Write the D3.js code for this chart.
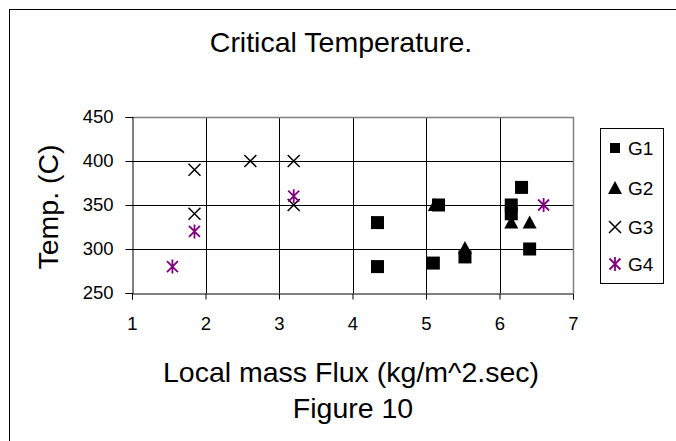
<!DOCTYPE html>
<html>
<head>
<meta charset="utf-8">
<script src="https://cdn.jsdelivr.net/npm/d3@7"></script>
<style>
  html, body { margin: 0; padding: 0; background: #fff; }
  svg { display: block; font-family: "Liberation Sans", Arial, sans-serif; }
</style>
</head>
<body>
<svg id="chart" width="676" height="441"></svg>
<script>
// Series: local mass flux (x) vs critical temperature (y)
const seriesNames = ["G1", "G2", "G3", "G4"];
const g1x = [4.34, 4.34, 5.10, 5.17, 5.53, 6.16, 6.16, 6.30, 6.41];
const g1y = [330, 280, 284, 350, 291, 350, 340, 370, 300];
const g2x = [5.12, 5.53, 6.16, 6.41];
const g2y = [350, 301, 330, 330];
const g3x = [1.85, 1.85, 2.61, 3.2, 3.2];
const g3y = [390, 340, 400, 400, 350];
const g4x = [1.55, 1.85, 3.2, 6.6];
const g4y = [280, 320, 360, 350];
const xTicks = [1, 2, 3, 4, 5, 6, 7];
const yTicks = [250, 300, 350, 400, 450];

const series = [
  { name: seriesNames[0], xs: g1x, ys: g1y, shape: "square", color: "#000" },
  { name: seriesNames[1], xs: g2x, ys: g2y, shape: "triangle", color: "#000" },
  { name: seriesNames[2], xs: g3x, ys: g3y, shape: "x", color: "#000" },
  { name: seriesNames[3], xs: g4x, ys: g4y, shape: "star", color: "#800080" }
];

const svg = d3.select("#chart");
const plot = { left: 132, right: 573, top: 117, bottom: 293 };

const x = d3.scaleLinear().domain([1, 7]).range([plot.left, plot.right]);
const y = d3.scaleLinear().domain([250, 450]).range([plot.bottom, plot.top]);

// outer chart frame
svg.append("rect")
  .attr("x", 9.5).attr("y", 9.5).attr("width", 700).attr("height", 460)
  .attr("fill", "none").attr("stroke", "#000").attr("stroke-width", 1);

// title
svg.append("text").attr("x", 341).attr("y", 52)
  .attr("text-anchor", "middle").attr("font-size", 28.5).text("Critical Temperature.");

// grid
const grid = svg.append("g");
grid.selectAll("line.h").data(yTicks.slice(1, -1)).join("line")
  .attr("x1", plot.left).attr("x2", plot.right)
  .attr("y1", d => Math.round(y(d)) + 0.5).attr("y2", d => Math.round(y(d)) + 0.5)
  .attr("stroke", "#000");
grid.selectAll("line.v").data(xTicks.slice(1, -1)).join("line")
  .attr("y1", plot.top).attr("y2", plot.bottom)
  .attr("x1", d => Math.round(x(d)) + 0.5).attr("x2", d => Math.round(x(d)) + 0.5)
  .attr("stroke", "#000");

// plot-area border (top and right in gray)
svg.append("path")
  .attr("d", `M${plot.left},${plot.top + 0.5}H${plot.right + 0.5}V${plot.bottom}`)
  .attr("fill", "none").attr("stroke", "#808080").attr("stroke-width", 1.5);

// axes
const xAxis = d3.axisBottom(x).tickValues(xTicks).tickSize(6).tickPadding(17).tickFormat(d3.format("d"));
const yAxis = d3.axisLeft(y).tickValues(yTicks).tickSize(7).tickPadding(12).tickFormat(d3.format("d"));

const gx = svg.append("g").attr("transform", `translate(0,${Math.round(plot.bottom) + 0.5})`).call(xAxis);
const gy = svg.append("g").attr("transform", `translate(${Math.round(plot.left) + 0.5},0)`).call(yAxis);
[gx, gy].forEach(g => {
  g.select(".domain").attr("stroke", "#000").attr("stroke-width", 1);
  g.selectAll(".tick line").attr("stroke", "#000");
  g.selectAll("text").attr("font-size", 18.5).attr("fill", "#000")
    .attr("font-family", "'Liberation Sans', Arial, sans-serif");
});

// axis titles
svg.append("text").attr("transform", `translate(58,207) rotate(-90)`)
  .attr("text-anchor", "middle").attr("font-size", 28.5).text("Temp. (C)");
svg.append("text").attr("x", 351).attr("y", 382)
  .attr("text-anchor", "middle").attr("font-size", 28.5).text("Local mass Flux (kg/m^2.sec)");
svg.append("text").attr("x", 353).attr("y", 418)
  .attr("text-anchor", "middle").attr("font-size", 28.5).text("Figure 10");

// marker drawing
function drawMarker(g, shape, color) {
  if (shape === "square") {
    g.append("rect").attr("x", -6.5).attr("y", -6.5).attr("width", 13).attr("height", 13).attr("fill", color);
  } else if (shape === "triangle") {
    g.append("path").attr("d", "M0,-7L7,6H-7Z").attr("fill", color);
  } else if (shape === "x") {
    g.append("path").attr("d", "M-6,-6L6,6M-6,6L6,-6").attr("stroke", color).attr("stroke-width", 1.5).attr("fill", "none");
  } else if (shape === "star") {
    g.append("path").attr("d", "M-5.5,-5.5L5.5,5.5M-5.5,5.5L5.5,-5.5M0,-7V7")
      .attr("stroke", color).attr("stroke-width", 1.8).attr("fill", "none");
  }
}

series.forEach(s => {
  const pts = s.xs.map((v, i) => [v, s.ys[i]]);
  svg.append("g").selectAll("g").data(pts).join("g")
    .attr("transform", d => `translate(${x(d[0])},${y(d[1])})`)
    .each(function () { drawMarker(d3.select(this), s.shape, s.color); });
});

// legend
const lg = svg.append("g");
lg.append("rect").attr("x", 600.5).attr("y", 128.5).attr("width", 63).attr("height", 155)
  .attr("fill", "#fff").attr("stroke", "#000");
const legendY = [148, 188, 227, 264];
series.forEach((s, i) => {
  const item = lg.append("g").attr("transform", `translate(615,${legendY[i]})`);
  if (s.shape === "square") {
    item.append("rect").attr("x", -5).attr("y", -5).attr("width", 10).attr("height", 10).attr("fill", s.color);
  } else {
    drawMarker(item, s.shape, s.color);
  }
  lg.append("text").attr("x", 628).attr("y", legendY[i] + 7).attr("font-size", 19).text(s.name);
});
</script>
</body>
</html>
